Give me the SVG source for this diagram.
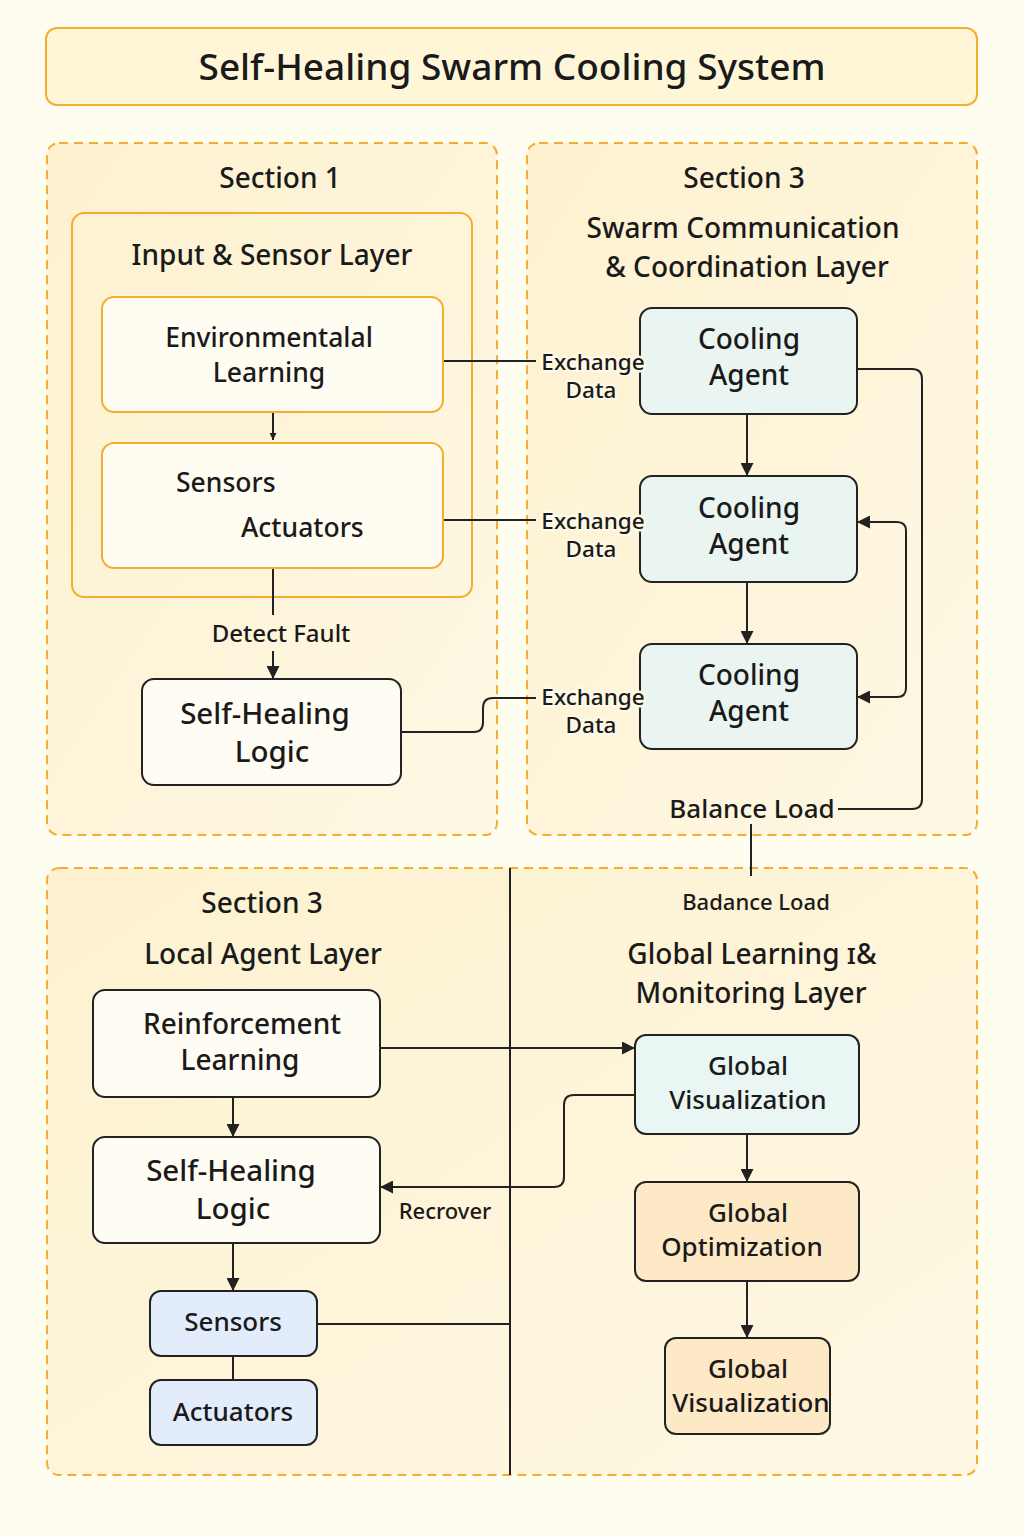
<svg xmlns="http://www.w3.org/2000/svg" width="1024" height="1536" viewBox="0 0 1024 1536">
<defs>
<marker id="arr" viewBox="0 0 10 10" refX="10" refY="5" markerWidth="13" markerHeight="13" markerUnits="userSpaceOnUse" orient="auto-start-reverse">
<path d="M0,0 L10,5 L0,10 Z" fill="#222"/>
</marker>
<marker id="arrs" viewBox="0 0 10 10" refX="10" refY="5" markerWidth="7" markerHeight="7" markerUnits="userSpaceOnUse" orient="auto">
<path d="M0,0 L10,5 L0,10 Z" fill="#222"/>
</marker>
<linearGradient id="secg" x1="0" y1="0" x2="1" y2="1">
<stop offset="0" stop-color="#fdf1cf"/>
<stop offset="1" stop-color="#fef8e4"/>
</linearGradient>
</defs>
<style>
text{font-family:"Noto Sans","DejaVu Sans",sans-serif;fill:#1a1a1a;text-anchor:middle;font-weight:500}
.sec{fill:url(#secg);stroke:#f4ad2f;stroke-width:2;stroke-dasharray:9 6}
.layer{fill:none;stroke:#f4ad2f;stroke-width:2}
.onode{fill:#fffcf1;stroke:#f4ad2f;stroke-width:2}
.bnode{fill:#fffcf3;stroke:#222;stroke-width:2}
.cnode{fill:#eaf5f1;stroke:#222;stroke-width:2}
.snode{fill:#e2ecfb;stroke:#222;stroke-width:2}
.pnode{fill:#fde9c6;stroke:#222;stroke-width:2}
.gnode{fill:#eaf6f4;stroke:#222;stroke-width:2}
.ln{fill:none;stroke:#222;stroke-width:2}
.t37{font-size:37px}
.t30{font-size:29.5px}
.t28{font-size:28px}
.t27{font-size:26.5px}
.t26{font-size:26px}
.t24{font-size:24px}
.t23{font-size:22.5px}
.t22{font-size:22px}
.halo{stroke:#fef8e6;stroke-width:5;paint-order:stroke;stroke-linejoin:round}
</style>
<rect width="1024" height="1536" fill="#fffcf0"/>

<g id="title">
<rect x="46" y="28" width="931" height="77" rx="11" fill="#fff6d8" stroke="#f4ad2f" stroke-width="2"/>
<text x="512" y="80" class="t37">Self-Healing Swarm Cooling System</text>
</g>

<g id="section1">
<rect class="sec" x="47" y="143" width="450" height="692" rx="12"/>
<text x="280" y="188" class="t28">Section 1</text>
</g>
<g id="section3-top">
<rect class="sec" x="527" y="143" width="450" height="692" rx="12"/>
<text x="744" y="188" class="t28">Section 3</text>
<text x="743" y="238" class="t28">Swarm Communication</text>
<text x="747" y="277" class="t28">&amp; Coordination Layer</text>
</g>
<g id="section3-bottom">
<rect class="sec" x="47" y="868" width="930" height="607" rx="12"/>
<text x="262" y="913" class="t28">Section 3</text>
<text x="263" y="964" class="t28">Local Agent Layer</text>
<text x="752" y="964" class="t28">Global Learning ɪ&amp;</text>
<text x="751" y="1003" class="t28">Monitoring Layer</text>
</g>

<g id="input-layer">
<rect class="layer" x="72" y="213" width="400" height="384" rx="12"/>
<text x="272" y="265" class="t28">Input &amp; Sensor Layer</text>
</g>

<g id="connectors">
<line class="ln" x1="273" y1="412" x2="273" y2="440" marker-end="url(#arrs)"/>
<line class="ln" x1="273" y1="568" x2="273" y2="615"/>
<line class="ln" x1="273" y1="651" x2="273" y2="679" marker-end="url(#arr)"/>
<line class="ln" x1="443" y1="361" x2="536" y2="361"/>
<line class="ln" x1="443" y1="520" x2="536" y2="520"/>
<path class="ln" d="M401,732 H474 Q483,732 483,722 V708 Q483,698 493,698 H536"/>
<line class="ln" x1="747" y1="414" x2="747" y2="476" marker-end="url(#arr)"/>
<line class="ln" x1="747" y1="582" x2="747" y2="644" marker-end="url(#arr)"/>
<path class="ln" d="M857,369 H912 Q922,369 922,379 V799 Q922,809 912,809 H838"/>
<path class="ln" d="M857,522 H897 Q906,522 906,531 V688 Q906,697 897,697 H857" marker-start="url(#arr)" marker-end="url(#arr)"/>
<line class="ln" x1="751" y1="824" x2="751" y2="876"/>
<line class="ln" x1="510" y1="868" x2="510" y2="1475"/>
<line class="ln" x1="380" y1="1048" x2="635" y2="1048" marker-end="url(#arr)"/>
<path class="ln" d="M635,1095 H574 Q564,1095 564,1105 V1177 Q564,1187 554,1187 H380" marker-end="url(#arr)"/>
<line class="ln" x1="233" y1="1097" x2="233" y2="1137" marker-end="url(#arr)"/>
<line class="ln" x1="233" y1="1243" x2="233" y2="1291" marker-end="url(#arr)"/>
<line class="ln" x1="233" y1="1356" x2="233" y2="1380"/>
<line class="ln" x1="317" y1="1324" x2="510" y2="1324"/>
<line class="ln" x1="747" y1="1134" x2="747" y2="1182" marker-end="url(#arr)"/>
<line class="ln" x1="747" y1="1281" x2="747" y2="1338" marker-end="url(#arr)"/>
</g>

<g id="env-learning">
<rect class="onode" x="102" y="297" width="341" height="115" rx="12"/>
<text x="269" y="347" class="t27">Environmentalal</text>
<text x="269" y="382" class="t27">Learning</text>
</g>
<g id="sensors-actuators">
<rect class="onode" x="102" y="443" width="341" height="125" rx="12"/>
<text x="176" y="492" class="t27" style="text-anchor:start">Sensors</text>
<text x="241" y="537" class="t27" style="text-anchor:start">Actuators</text>
</g>
<g id="detect-label">
<text x="281" y="642" class="t24">Detect Fault</text>
</g>
<g id="self-healing-1">
<rect class="bnode" x="142" y="679" width="259" height="106" rx="12"/>
<text x="265" y="724" class="t30">Self-Healing</text>
<text x="272" y="762" class="t30">Logic</text>
</g>

<g id="agent1">
<rect class="cnode" x="640" y="308" width="217" height="106" rx="12"/>
<text x="749" y="349" class="t28">Cooling</text>
<text x="749" y="385" class="t28">Agent</text>
</g>
<g id="agent2">
<rect class="cnode" x="640" y="476" width="217" height="106" rx="12"/>
<text x="749" y="518" class="t28">Cooling</text>
<text x="749" y="554" class="t28">Agent</text>
</g>
<g id="agent3">
<rect class="cnode" x="640" y="644" width="217" height="105" rx="12"/>
<text x="749" y="685" class="t28">Cooling</text>
<text x="749" y="721" class="t28">Agent</text>
</g>
<g id="labels-exchange">
<text x="593" y="370" class="t23 halo">Exchange</text>
<text x="591" y="398" class="t23 halo">Data</text>
<text x="593" y="529" class="t23 halo">Exchange</text>
<text x="591" y="557" class="t23 halo">Data</text>
<text x="593" y="705" class="t23 halo">Exchange</text>
<text x="591" y="733" class="t23 halo">Data</text>
<text x="752" y="818" class="t26">Balance Load</text>
<text x="756" y="910" class="t22">Badance Load</text>
<text x="445" y="1219" class="t22">Recrover</text>
</g>

<g id="reinforcement">
<rect class="bnode" x="93" y="990" width="287" height="107" rx="12"/>
<text x="242" y="1034" class="t28">Reinforcement</text>
<text x="240" y="1070" class="t28">Learning</text>
</g>
<g id="self-healing-2">
<rect class="bnode" x="93" y="1137" width="287" height="106" rx="12"/>
<text x="231" y="1181" class="t30">Self-Healing</text>
<text x="233" y="1219" class="t30">Logic</text>
</g>
<g id="sensors">
<rect class="snode" x="150" y="1291" width="167" height="65" rx="11"/>
<text x="233" y="1331" class="t26">Sensors</text>
</g>
<g id="actuators">
<rect class="snode" x="150" y="1380" width="167" height="65" rx="11"/>
<text x="233" y="1421" class="t26">Actuators</text>
</g>

<g id="global-vis-1">
<rect class="gnode" x="635" y="1035" width="224" height="99" rx="11"/>
<text x="748" y="1075" class="t26">Global</text>
<text x="748" y="1109" class="t26">Visualization</text>
</g>
<g id="global-opt">
<rect class="pnode" x="635" y="1182" width="224" height="99" rx="11"/>
<text x="748" y="1222" class="t26">Global</text>
<text x="742" y="1256" class="t26">Optimization</text>
</g>
<g id="global-vis-2">
<rect class="pnode" x="665" y="1338" width="165" height="96" rx="11"/>
<text x="748" y="1378" class="t26">Global</text>
<text x="751" y="1412" class="t26">Visualization</text>
</g>
</svg>
